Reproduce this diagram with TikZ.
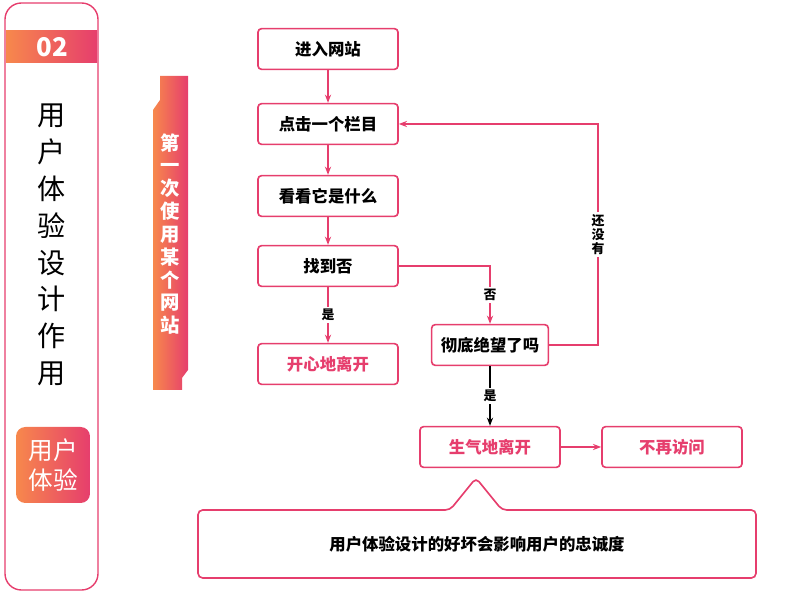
\documentclass[tikz,border=0pt]{standalone}
\usepackage{fontspec}
\setmainfont{Noto Sans CJK SC}
\usetikzlibrary{arrows.meta}
\definecolor{rosered}{HTML}{E63E6D}
\definecolor{peach}{HTML}{F7884C}
\tikzset{
  flowbox/.style={draw=rosered,line width=1.4pt,rounded corners=3pt,minimum width=4.2cm,minimum height=1.22cm,font=\bfseries\fontsize{14}{16}\selectfont,inner sep=0pt},
  endbox/.style={flowbox,text=rosered},
  flowarrow/.style={draw=rosered,line width=1.2pt,-{Stealth[length=7pt]}},
  flowlabel/.style={fill=white,font=\bfseries\fontsize{11}{12}\selectfont,inner sep=2pt}
}
\begin{document}
\begin{tikzpicture}[x=0.03cm,y=-0.03cm]
  \useasboundingbox (0,0) rectangle (800,600);

  % left panel
  \draw[rosered,line width=1.2pt,rounded corners=14pt] (5,3) rectangle (98,590);
  \shade[left color=peach,right color=rosered] (6,31) rectangle (97,63);
  \node[text=white,font=\bfseries\fontsize{22}{24}\selectfont] (num) at (52,47) {02};
  \node[font=\fontsize{24}{31.5}\selectfont,align=center] (title) at (52,245)
    {用\\户\\体\\验\\设\\计\\作\\用};
  \shade[left color=peach,right color=rosered,rounded corners=8pt] (16,427) rectangle (90,503);
  \node[text=white,font=\fontsize{21}{26}\selectfont,align=center] (badge) at (53,465) {用户\\体验};

  % banner
  \shade[left color=peach,right color=rosered]
    (160,76) -- (188,76) -- (188,370) -- (182,378) -- (182,390) -- (153,390)
    -- (153,110) -- (160,100) -- cycle;
  \node[text=white,font=\bfseries\fontsize{16.5}{19.5}\selectfont,align=center] (banner) at (170,234)
    {第\\一\\次\\使\\用\\某\\个\\网\\站};

  % flow boxes
  \node[flowbox] (enter) at (328,49) {进入网站};
  \node[flowbox] (click) at (328,124) {点击一个栏目};
  \node[flowbox] (look) at (328,196) {看看它是什么};
  \node[flowbox] (found) at (328,266) {找到否};
  \node[endbox] (happy) at (328,364) {开心地离开};
  \node[flowbox,minimum width=3.5cm] (despair) at (490,345) {彻底绝望了吗};
  \node[endbox] (angry) at (490,447) {生气地离开};
  \node[endbox] (never) at (672,447) {不再访问};

  % connectors
  \draw[flowarrow] (enter) -- (click);
  \draw[flowarrow] (click) -- (look);
  \draw[flowarrow] (look) -- (found);
  \draw[flowarrow] (found) -- node[flowlabel]{是} (happy);
  \draw[flowarrow] (found.east) -| node[flowlabel,pos=0.75]{否} (despair.north);
  \draw[flowarrow] (despair.east) -- (598,345) -- node[flowlabel,align=center,pos=0.5]{还\\没\\有} (598,124) -- (click.east);
  \draw[line width=1.2pt,-{Stealth[length=7pt]}] (despair) -- node[flowlabel]{是} (angry);
  \draw[flowarrow] (angry) -- (never);

  % callout
  \draw[rosered,line width=1.4pt,rounded corners=4pt,fill=white]
    (198,510) -- (450,510) -- (476,478) -- (502,510) -- (756,510) -- (756,578)
    -- (198,578) -- cycle;
  \node[font=\bfseries\fontsize{14}{16}\selectfont] (summary) at (477,544) {用户体验设计的好坏会影响用户的忠诚度};
\end{tikzpicture}
\end{document}
